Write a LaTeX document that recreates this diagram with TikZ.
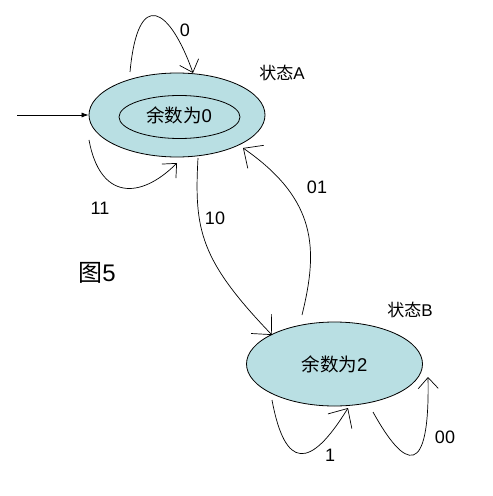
\documentclass[tikz,border=0pt]{standalone}
\usepackage{fontspec}
\setmainfont{Liberation Sans}
\newfontfamily\cjk{Noto Sans CJK SC}
\usetikzlibrary{shapes.geometric,arrows.meta}
\definecolor{statefill}{HTML}{B9DFE3}
\tikzset{
  statenode/.style={ellipse,draw,line width=0.8bp,fill=statefill,inner sep=0pt,minimum width=176bp,minimum height=84bp,font=\fontsize{18.5bp}{20bp}\selectfont},
  innernode/.style={ellipse,draw,line width=0.8bp,inner sep=0pt,minimum width=121bp,minimum height=43bp},
  conn/.style={line width=0.7bp,-{Straight Barb[length=11bp,width=20bp,line width=0.7bp]}},
  bigconn/.style={line width=0.7bp,-{Straight Barb[length=15bp,width=28bp,line width=0.7bp]}},
  lbl/.style={font=\fontsize{18bp}{20bp}\selectfont,inner sep=0pt},
  slbl/.style={font=\fontsize{17bp}{19bp}\selectfont,inner sep=0pt},
}
\begin{document}
\begin{tikzpicture}[x=1bp,y=-1bp]
\useasboundingbox (0,0) rectangle (493,496);
\node[statenode] (A) at (177,115) {};
\node[innernode] (Ain) at (179.5,117) {};
\node[font=\fontsize{18.5bp}{20bp}\selectfont,inner sep=0pt] (At) at (179,115) {{\cjk 余数为}0};
\node[statenode] (B) at (334.5,364) {{\cjk 余数为}2};
\node[slbl] (sA) at (282,73) {{\cjk 状态}A};
\node[slbl] (sB) at (410,310) {{\cjk 状态}B};
\node[font=\fontsize{24bp}{26bp}\selectfont,inner sep=0pt] (fig) at (97,273) {{\cjk 图}5};
\coordinate (start) at (17,115);
\draw[line width=0.7bp,-{Latex[length=7bp,width=5bp]}] (start) -- (A.west);
% loop 0
\coordinate (l0s) at (130,72);
\coordinate (l0e) at (193,73);
\draw[conn] (l0s) .. controls (138,-14) and (170,8) .. (l0e);
\node[lbl] (t0) at (185,30) {0};
% loop 11
\coordinate (l11s) at (89,140);
\coordinate (l11e) at (177,163);
\draw[conn] (l11s) .. controls (100,200) and (140,200) .. (l11e);
\node[lbl] (t11) at (100,208) {11};
% edge 10
\coordinate (e10s) at (198,158);
\coordinate (e10e) at (272,335);
\draw[bigconn] (e10s) .. controls (194,230) and (200,260) .. (e10e);
\node[lbl] (t10) at (215,218) {10};
% edge 01
\coordinate (e01s) at (302,315);
\coordinate (e01e) at (243,148);
\draw[bigconn] (e01s) .. controls (318,250) and (318,200) .. (e01e);
\node[lbl] (t01) at (317,187) {01};
% loop 1
\coordinate (l1s) at (272,400);
\coordinate (l1e) at (348,408);
\draw[bigconn] (l1s) .. controls (285,470) and (310,470) .. (l1e);
\node[lbl] (t1) at (330,455) {1};
% loop 00
\coordinate (l00s) at (373,412);
\coordinate (l00e) at (428,377);
\draw[conn] (l00s) .. controls (405,470) and (430,480) .. (l00e);
\node[lbl] (t00) at (445,437) {00};
\end{tikzpicture}
\end{document}
